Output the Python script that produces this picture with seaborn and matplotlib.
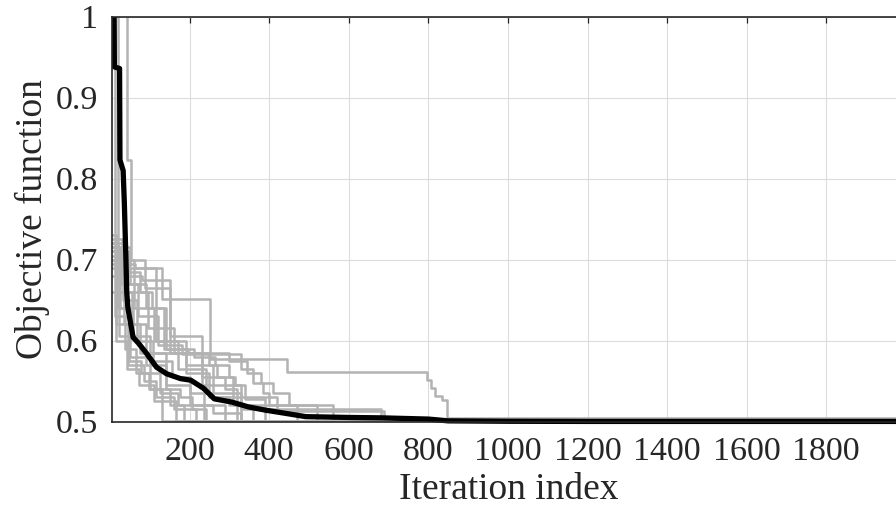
import matplotlib
matplotlib.use("Agg")
import matplotlib.pyplot as plt
import matplotlib.patches as mpatches
import pandas as pd
import seaborn as sns

# ── Data ──
N_ITER = 2000

# best-so-far value of every run; each run steps to the value at the listed iteration
RUN_ITERS = [
    [1, 43, 54, 88, 150, 230, 310, 520],
    [1, 21, 60, 110, 170, 240, 330],
    [1, 13, 35, 75, 140, 200, 290],
    [1, 30, 130, 252, 445, 796, 806, 817, 834, 848],
    [1, 25, 64, 115, 190, 260, 420, 688],
    [1, 40, 95, 160, 230, 330, 680],
    [1, 20, 50, 100, 130],
    [1, 45, 80, 150, 300, 345, 380, 410, 450, 560],
    [1, 18, 55, 90, 140, 175, 205, 240],
    [1, 28, 70, 120, 180, 330, 360, 385, 400, 470],
    [1, 15, 45, 85, 115, 160, 215],
    [1, 35, 75, 105, 140, 195, 250, 270, 290, 320],
    [1, 22, 48, 78, 125, 170, 260, 330],
    [1, 12, 38, 65, 98, 150, 185],
    [1, 50, 90, 135, 210, 265, 300, 315, 340, 390],
    [1, 33, 68, 108, 155, 200, 235],
    [1, 26, 58, 100, 190, 250, 300, 360],
    [1, 16, 42, 72, 110, 165],
]
RUN_VALUES = [
    [1.20, 0.823, 0.70, 0.665, 0.605, 0.555, 0.52, 0.5003],
    [1.25, 0.70, 0.64, 0.60, 0.565, 0.535, 0.5002],
    [1.10, 0.68, 0.62, 0.585, 0.545, 0.52, 0.5001],
    [0.725, 0.69, 0.651, 0.577, 0.561, 0.551, 0.542, 0.532, 0.526, 0.5045],
    [0.715, 0.695, 0.69, 0.60, 0.57, 0.53, 0.513, 0.5002],
    [0.70, 0.66, 0.615, 0.585, 0.545, 0.515, 0.5008],
    [0.72, 0.64, 0.58, 0.54, 0.5002],
    [0.71, 0.68, 0.675, 0.585, 0.575, 0.56, 0.548, 0.535, 0.52, 0.5006],
    [0.73, 0.66, 0.62, 0.57, 0.54, 0.53, 0.515, 0.5004],
    [0.705, 0.67, 0.63, 0.595, 0.583, 0.565, 0.548, 0.535, 0.52, 0.5003],
    [0.69, 0.62, 0.57, 0.55, 0.53, 0.515, 0.5001],
    [0.72, 0.685, 0.66, 0.64, 0.59, 0.585, 0.57, 0.555, 0.54, 0.5005],
    [0.70, 0.605, 0.575, 0.56, 0.535, 0.52, 0.51, 0.5002],
    [0.68, 0.63, 0.59, 0.56, 0.54, 0.52, 0.5001],
    [0.715, 0.67, 0.64, 0.59, 0.58, 0.57, 0.555, 0.545, 0.528, 0.5004],
    [0.695, 0.65, 0.60, 0.575, 0.555, 0.535, 0.5003],
    [0.71, 0.64, 0.605, 0.585, 0.56, 0.53, 0.52, 0.5002],
    [0.66, 0.60, 0.565, 0.545, 0.525, 0.5002],
]

# mean over the runs (black curve)
MEAN_ITERS = [1, 10, 11, 24, 25, 33, 36, 40, 42, 45, 58, 71, 92, 117, 142, 177,
              203, 235, 262, 306, 348, 391, 442, 492, 600, 684, 800, 850, 1000,
              1200, 2000]
MEAN_VALUES = [1.05, 1.02, 0.938, 0.936, 0.823, 0.81, 0.77, 0.70, 0.66, 0.64,
               0.604, 0.597, 0.584, 0.567, 0.559, 0.553, 0.551, 0.541, 0.528,
               0.524, 0.518, 0.514, 0.510, 0.506, 0.505, 0.5045, 0.503, 0.5008,
               0.5003, 0.5001, 0.5001]

X_TICKS = [200, 400, 600, 800, 1000, 1200, 1400, 1600, 1800]
Y_TICKS = [0.5, 0.6, 0.7, 0.8, 0.9, 1.0]
Y_TICK_LABELS = ["0.5", "0.6", "0.7", "0.8", "0.9", "1"]

GRAY = "#b3b3b3"
DARK = "#262626"

sns.set_style("white")
plt.rcParams["font.family"] = ["Liberation Serif", "DejaVu Serif"]

# long-form table, each run held to its last value up to the final iteration
rows = []
for k, (its, vals) in enumerate(zip(RUN_ITERS, RUN_VALUES)):
    for it, val in zip(its + [N_ITER], vals + [vals[-1]]):
        rows.append({"run": k, "iteration": it, "value": val})
runs_df = pd.DataFrame(rows)

fig = plt.figure(figsize=(8.96, 5.17), dpi=100)
ax = fig.add_axes([0.125, 0.1847, 0.886, 0.783])

sns.lineplot(
    data=runs_df, x="iteration", y="value", hue="run",
    palette=[GRAY] * len(RUN_ITERS), legend=False, estimator=None,
    drawstyle="steps-post", lw=1.8, ax=ax,
)
sns.lineplot(x=MEAN_ITERS, y=MEAN_VALUES, color="black", lw=3.8,
             estimator=None, ax=ax)

# let the thick mean curve spill a little below the bottom edge
clip = mpatches.Rectangle((0, -0.015), 1, 1.015, transform=ax.transAxes,
                          visible=False)
ax.add_patch(clip)
ax.lines[-1].set_clip_path(clip)

ax.set_xlim(5, N_ITER)
ax.set_ylim(0.5, 1.0)
ax.set_xticks(X_TICKS)
ax.set_xticklabels([str(t) for t in X_TICKS])
ax.set_yticks(Y_TICKS)
ax.set_yticklabels(Y_TICK_LABELS)
ax.grid(True, color="#dcdcdc", lw=0.8)
ax.set_axisbelow(True)

ax.tick_params(direction="in", length=4.5, width=0.9, colors=DARK,
               labelsize=24.5, top=True, right=True)
ax.tick_params(axis="x", pad=11)
ax.tick_params(axis="y", pad=10)
for s in ax.spines.values():
    s.set_color(DARK)
    s.set_linewidth(1.2)

ax.set_xlabel("Iteration index", fontsize=27, color=DARK)
ax.set_ylabel("Objective function", fontsize=27, color=DARK)
ax.xaxis.set_label_coords(0.5, -0.125)
ax.yaxis.set_label_coords(-0.078, 0.5)

fig.savefig("out.png", dpi=100)
plt.close(fig)
